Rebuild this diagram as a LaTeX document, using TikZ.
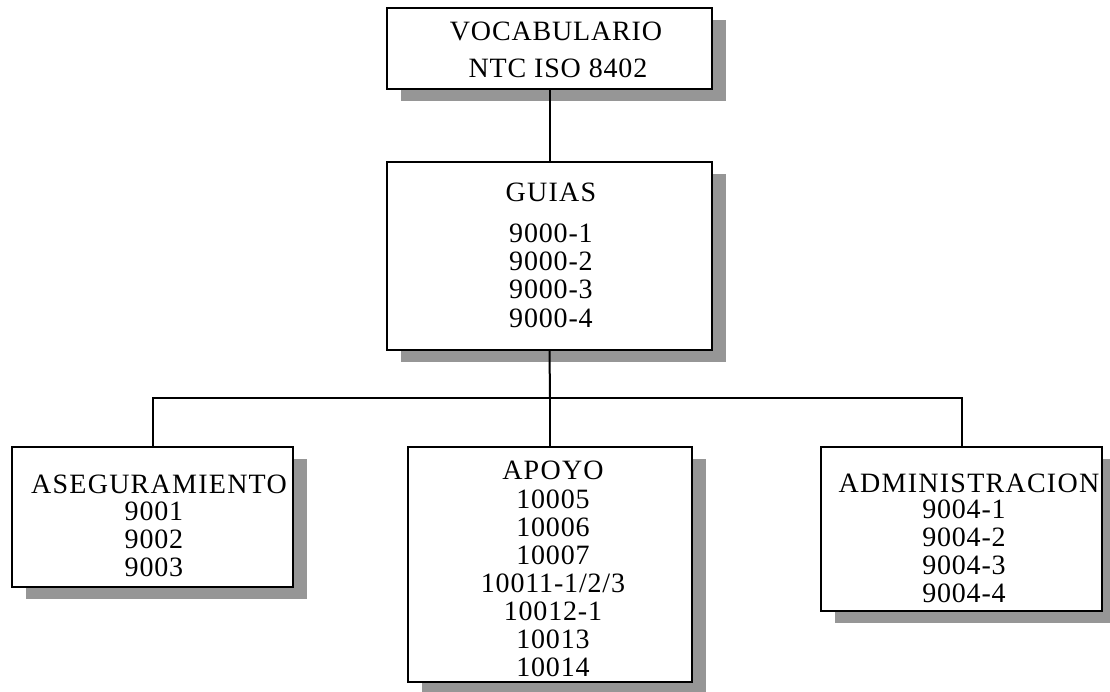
\documentclass[tikz,border=0pt]{standalone}
\usepackage{fontspec}
\setmainfont{Liberation Serif}[LetterSpace=3]
\newfontfamily\capsface{Liberation Serif}[LetterSpace=4.5]
\usetikzlibrary{shadows}
\definecolor{shade}{RGB}{150,150,150}
\tikzset{
  box/.style={draw=black, line width=2pt, fill=white, rectangle, inner sep=0pt,
    drop shadow={shadow xshift=14pt, shadow yshift=-12pt, fill=shade, opacity=1}},
  link/.style={line width=2pt, line cap=rect},
  txt/.style={anchor=base, inner sep=0pt, font=\fontsize{28}{28}\selectfont},
  head/.style={txt, font=\capsface\fontsize{28}{28}\selectfont},
}
\begin{document}
\begin{tikzpicture}[x=1pt,y=-1pt]
\useasboundingbox (0,0) rectangle (1110,692);

% boxes
\node[box, minimum width=325pt, minimum height=81pt]  (top)    at (549.5,48.5) {};
\node[box, minimum width=325pt, minimum height=188pt] (mid)    at (549.5,256)  {};
\node[box, minimum width=281pt, minimum height=140pt] (left)   at (152.5,517)  {};
\node[box, minimum width=284pt, minimum height=235pt] (center) at (550,564.5)  {};
\node[box, minimum width=281pt, minimum height=164pt] (right)  at (961.5,529)  {};

% connectors
\coordinate (hub) at (550,398);
\coordinate (busL) at (left.north |- hub);
\coordinate (busR) at (right.north |- hub);
\draw[link] (top.south) -- (mid.north);
\draw[link] (mid.south) -- (hub);
\draw[link] (left.north) -- (busL) -- (busR) -- (right.north);
\draw[link] (hub) -- (center.north);

% texts
\node[txt] (top-1) at (556,40.5) {VOCABULARIO};
\node[txt] (top-2) at (558,78) {NTC ISO 8402};

\node[head] (mid-0) at (551,202) {GUIAS};
\foreach \t [count=\i] in {9000-1,9000-2,9000-3,9000-4}
  \node[txt] (mid-\i) at (551,{243+28*(\i-1)}) {\t};

\node[head] (left-0) at (159,493) {ASEGURAMIENTO};
\foreach \t [count=\i] in {9001,9002,9003}
  \node[txt] (left-\i) at (154,{520.5+28*(\i-1)}) {\t};

\node[head] (center-0) at (553,479.5) {APOYO};
\foreach \t [count=\i] in {10005,10006,10007,10011-1/2/3,10012-1,10013,10014}
  \node[txt] (center-\i) at (553,{508+28*(\i-1)}) {\t};

\node[head] (right-0) at (969,492) {ADMINISTRACION};
\foreach \t [count=\i] in {9004-1,9004-2,9004-3,9004-4}
  \node[txt] (right-\i) at (964,{518.5+28*(\i-1)}) {\t};
\end{tikzpicture}
\end{document}
